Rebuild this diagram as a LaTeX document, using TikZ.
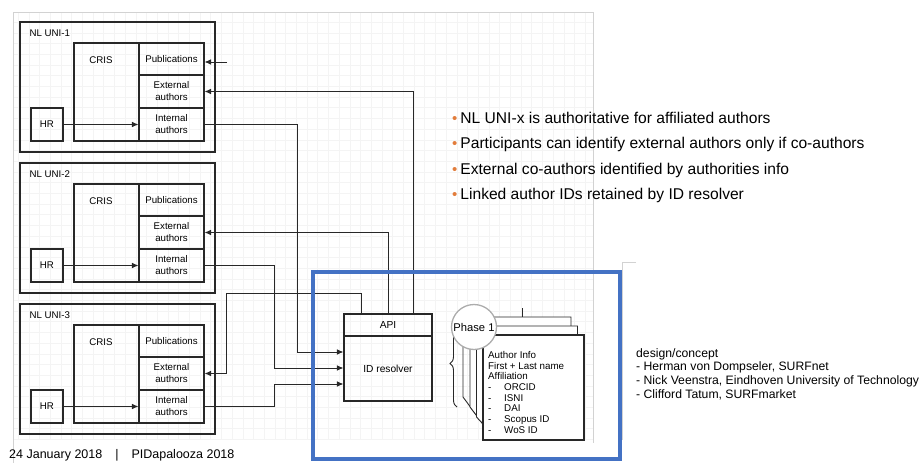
\documentclass[tikz,border=0pt]{standalone}
\usepackage{fontspec}
\setmainfont{Liberation Sans}
\usetikzlibrary{positioning,calc,arrows.meta,decorations.pathreplacing}
\definecolor{frameblue}{RGB}{68,114,196}
\definecolor{bulletorange}{RGB}{226,125,60}
\definecolor{ink}{RGB}{40,40,40}
\tikzset{
	box/.style={draw=ink, line width=1.05pt, inner sep=0pt},
	conn/.style={draw=ink, line width=.85pt, -{Latex[length=6.5pt,width=5.5pt]}},
	small/.style={font=\fontsize{9.7}{12}\selectfont},
	pts/.style={anchor=west, inner sep=0pt, font=\fontsize{15.6}{18}\selectfont},
}
\newcommand{\orangedot}{\textcolor{bulletorange}{\fontsize{15}{15}\selectfont\textbullet}\hspace{3pt}}
\begin{document}
\begin{tikzpicture}[x=1pt,y=-1pt]
		\useasboundingbox (0,0) rectangle (924,463);
		\foreach \gx in {18,28.7,...,593} \draw[gray!9] (\gx,12) -- (\gx,440);
		\foreach \gy in {22,32.7,...,440} \draw[gray!9] (13,\gy) -- (593,\gy);
		\draw[gray!35] (13,463) -- (13,12) -- (593,12) -- (593,443);
		\draw[gray!35] (636,262) -- (622,262) -- (622,440);
		
		\foreach \i/\dy in {1/0,2/141,3/282}{
			\node[box, minimum width=195, minimum height=130] (uni\i) at (117.5,87+\dy) {};
			\node[small, anchor=west] (unilbl\i) at (26,33+\dy) {NL UNI-\i};
			\node[box, minimum width=65, minimum height=98] (cris\i) at (106.5,92+\dy) {};
			\node[small] (crislbl\i) at (101,60+\dy) {CRIS};
			\node[box, small, minimum width=65, minimum height=32.5] (pub\i) at (171.5,59.25+\dy) {Publications};
			\node[box, small, align=center, minimum width=65, minimum height=33] (ext\i) at (171.5,91.5+\dy) {External\\authors};
			\node[box, small, align=center, minimum width=65, minimum height=33] (int\i) at (171.5,124.5+\dy) {Internal\\authors};
			\node[box, small, minimum width=32, minimum height=33] (hr\i) at (47,124.5+\dy) {HR};
			\draw[conn] (hr\i.east) -- (hr\i.east -| int\i.west);
		}
		\coordinate (pubsrc) at (227,62); \draw[conn] (pubsrc) -- (pubsrc -| pub1.east);
		
		\node[box, small, font=\fontsize{10.2}{12}\selectfont, minimum width=88, minimum height=22] (api) at (388,325) {API};
		\node[box, small, font=\fontsize{10.2}{12}\selectfont, minimum width=88, minimum height=65] (res) at (388,368.5) {ID resolver};
		
		\draw[conn] ([xshift=25]api.north) |- (ext1.east);
		\draw[conn] (api.north) |- (ext2.east);
		\coordinate (ext3bend) at (226,293);
		\draw[conn] ([xshift=-27]api.north) |- (ext3bend) |- (ext3.east);
		
		\coordinate (int1bend) at (297,352);
		\coordinate (int2bend) at (274,368);
		\coordinate (int3bend) at (274,384);
		\draw[conn] (int1.east) -| (int1bend) -- (int1bend -| res.west);
		\draw[conn] (int2.east) -| (int2bend) -- (int2bend -| res.west);
		\draw[conn] (int3.east) -| (int3bend) -- (int3bend -| res.west);
		
		\draw[frameblue, line width=4.5pt] (313,272) rectangle (620,459);
		
		\draw[ink, line width=.9pt, decorate, decoration={brace, amplitude=7pt}] (457,407) -- (457,320);
		
		\draw[ink, line width=.9pt] (463,340) -- (463,397) -- (483,424);
		\foreach \k/\yend in {2/407,1/417}
			\draw[ink, fill=white, line width=.9pt] (483-6.5*\k,335-9*\k) -- (584-6.5*\k,335-9*\k) -- (584-6.5*\k,430) -- (483,430) -- (483,424) -- (483-6.5*\k,\yend) -- cycle;
		\draw[ink, line width=.8pt] (522,308) -- (522,317);
		\node[box, fill=white, line width=1.2pt, minimum width=101, minimum height=105] (docs) at (533.5,387.5) {};
		\node[anchor=north west, inner sep=0pt, align=left, font=\fontsize{9.8}{10.7}\selectfont] (docinfo) at (488,351) {Author Info\\First + Last name\\Affiliation\\\makebox[16pt][l]{-}ORCID\\\makebox[16pt][l]{-}ISNI\\\makebox[16pt][l]{-}DAI\\\makebox[16pt][l]{-}Scopus ID\\\makebox[16pt][l]{-}WoS ID};
		\node[circle, draw=gray!65, fill=white, line width=1.3pt, minimum size=45, inner sep=0pt, font=\fontsize{11.2}{13}\selectfont] (phase) at (474,327) {Phase 1};
		
		\node[pts] (pt1) at (452,118) {\orangedot NL UNI-x is authoritative for affiliated authors};
		\node[pts] (pt2) at (452,144) {\orangedot Participants can identify external authors only if co-authors};
		\node[pts] (pt3) at (452,170) {\orangedot External co-authors identified by authorities info};
		\node[pts] (pt4) at (452,195) {\orangedot Linked author IDs retained by ID resolver};
		
		\node[anchor=north west, inner sep=0pt, align=left, font=\fontsize{12.2}{13.7}\selectfont] (credits) at (636,348) {design/concept\\- Herman von Dompseler, SURFnet\\- Nick Veenstra, Eindhoven University of Technology\\- Clifford Tatum, SURFmarket};
		\node[anchor=west, inner sep=0pt, font=\fontsize{12.5}{14}\selectfont] (footer) at (9,455) {24 January 2018\hspace{13pt}|\hspace{13pt}PIDapalooza 2018};
\end{tikzpicture}
\end{document}
